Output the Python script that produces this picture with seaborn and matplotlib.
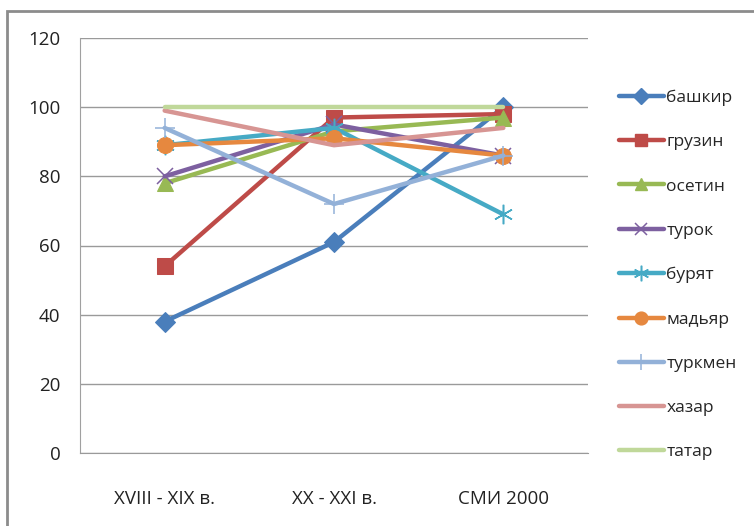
import matplotlib
matplotlib.use("Agg")
import matplotlib.pyplot as plt
import seaborn as sns
import pandas as pd
from matplotlib.patches import Rectangle

# ----- DATA -----
periods = ["XVIII - XIX в.", "XX - XXI в.", "СМИ 2000"]
groups = ["башкир", "грузин", "осетин", "турок", "бурят",
          "мадьяр", "туркмен", "хазар", "татар"]
bashkir = [38, 61, 100]
gruzin = [54, 97, 98]
osetin = [78, 93, 97]
turok = [80, 95, 86]
buryat = [89, 94, 69]
madyar = [89, 91, 86]
turkmen = [94, 72, 86]
khazar = [99, 89, 94]
tatar = [100, 100, 100]

values = [bashkir, gruzin, osetin, turok, buryat, madyar, turkmen, khazar, tatar]
colors = ["#4A7EBB", "#BE4B48", "#98B954", "#7D60A0", "#46AAC5",
          "#E6883F", "#93B1D8", "#D79593", "#C0D89A"]
markers = ["D", "s", "^", "x", (6, 2, 0), "o", "+", "", ""]
msizes = [10, 11, 11, 11, 14, 11.5, 15, 0, 0]

rows = []
for g, vals in zip(groups, values):
    for i, v in enumerate(vals):
        rows.append({"period": i, "group": g, "value": v})
df = pd.DataFrame(rows)

# ----- PLOT -----
sns.set_style("white")
plt.rcParams["font.family"] = ["Open Sans", "DejaVu Sans"]

fig = plt.figure(figsize=(7.54, 5.26), dpi=100)
ax = fig.add_axes([80 / 754, 1 - 453 / 526, (588 - 80) / 754, (453 - 38) / 526])

sns.lineplot(data=df, x="period", y="value", hue="group", hue_order=groups,
             palette=colors, linewidth=3.2, ax=ax, legend=False, sort=False)

thin = ("x", "+", (6, 2, 0))
for line, m, ms, c in zip(ax.get_lines(), markers, msizes, colors):
    if m:
        line.set_marker(m)
        line.set_markersize(ms)
        line.set_markerfacecolor(c)
        line.set_markeredgecolor(c)
        if m in thin:
            line.set_markeredgewidth(1.1)

ax.set_xlim(-0.5, 2.5)
ax.set_ylim(0, 120)
ax.set_yticks(range(0, 121, 20))
ax.set_xticks(range(3))
ax.set_xticklabels(periods)
ax.set_xlabel("")
ax.set_ylabel("")
ax.yaxis.grid(True, color="#9a9a9a", linewidth=1)
ax.set_axisbelow(True)
for s in ["top", "right"]:
    ax.spines[s].set_visible(False)
ax.spines["left"].set_color("#a0a0a0")
ax.spines["bottom"].set_color("#9a9a9a")
ax.tick_params(axis="both", length=0, labelsize=13.5, colors="#222222")
ax.tick_params(axis="y", pad=14)
ax.tick_params(axis="x", pad=27)

# legend
handles = []
for g, c, m, ms in zip(groups, colors, markers, msizes):
    h, = ax.plot([], [], color=c, linewidth=3.2, marker=m if m else None,
                 markersize=ms * 0.8, markerfacecolor=c, markeredgecolor=c,
                 markeredgewidth=1.1 if m in thin else 1, label=g)
    handles.append(h)
fig.legend(handles=handles, loc="upper left", bbox_to_anchor=(603 / 754, 1 - 74 / 526),
           frameon=False, fontsize=12.5, handlelength=2.6, labelspacing=1.62,
           handletextpad=0.15)

fig.patches.append(Rectangle((7 / 754, -0.1), 1.2, 1 - 11 / 526 + 0.1,
                             transform=fig.transFigure, fill=False,
                             edgecolor="#8c8c8c", linewidth=2))

fig.savefig("out.png", dpi=100)
